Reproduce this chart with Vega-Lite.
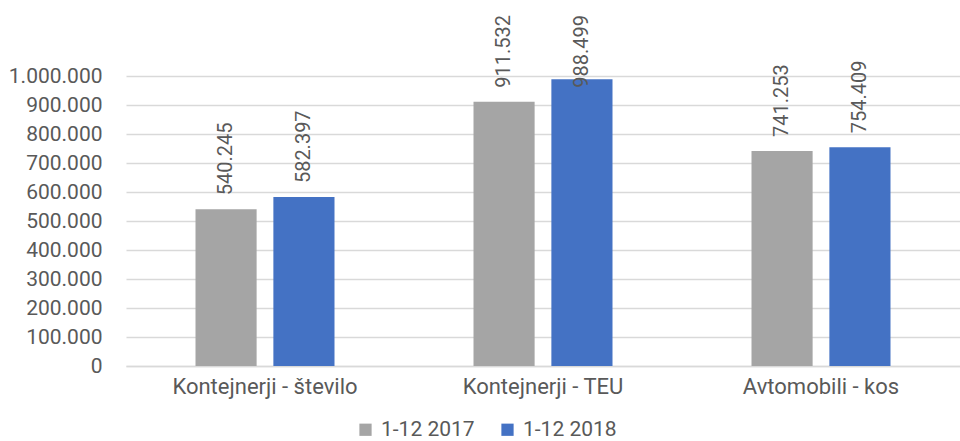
{
  "$schema": "https://vega.github.io/schema/vega-lite/v6.json",
  "autosize": "none",
  "width": 834,
  "height": 290,
  "padding": {"left": 126, "top": 76, "right": 0, "bottom": 75},
  "background": "white",
  "config": {
    "view": {"stroke": null},
    "font": "Roboto",
    "locale": {
      "number": {"decimal": ",", "thousands": ".", "grouping": [3], "currency": ["", " €"]}
    },
    "axisY": {
      "values": [0, 100000, 200000, 300000, 400000, 500000, 600000, 700000, 800000, 900000, 1000000],
      "format": ",d",
      "labelOverlap": false,
      "labelFontSize": 21,
      "labelColor": "#595959",
      "labelPadding": 24,
      "ticks": false,
      "domain": false,
      "gridColor": "#D9D9D9",
      "gridWidth": 1.5,
      "title": null
    }
  },
  "data": {
    "values": [
      {"kategorija": "Kontejnerji - število", "obdobje": "1-12 2017", "vrednost": 540245},
      {"kategorija": "Kontejnerji - število", "obdobje": "1-12 2018", "vrednost": 582397},
      {"kategorija": "Kontejnerji - TEU", "obdobje": "1-12 2017", "vrednost": 911532},
      {"kategorija": "Kontejnerji - TEU", "obdobje": "1-12 2018", "vrednost": 988499},
      {"kategorija": "Avtomobili - kos", "obdobje": "1-12 2017", "vrednost": 741253},
      {"kategorija": "Avtomobili - kos", "obdobje": "1-12 2018", "vrednost": 754409}
    ]
  },
  "encoding": {
    "x": {
      "field": "kategorija",
      "type": "nominal",
      "sort": null,
      "scale": {"paddingInner": 0.5, "paddingOuter": 0.25},
      "axis": {
        "title": null,
        "labelAngle": 0,
        "labelFontSize": 22,
        "labelLimit": 0,
        "labelColor": "#595959",
        "labelPadding": 10,
        "ticks": false,
        "domainColor": "#D9D9D9",
        "domainWidth": 1.5
      }
    },
    "xOffset": {
      "field": "obdobje",
      "type": "nominal",
      "scale": {"paddingInner": 0.215, "paddingOuter": 0}
    }
  },
  "layer": [
    {
      "mark": {"type": "bar"},
      "encoding": {
        "y": {
          "field": "vrednost",
          "type": "quantitative",
          "title": null,
          "scale": {"domain": [0, 1000000], "nice": false},
          "axis": {"values": [0, 100000, 200000, 300000, 400000, 500000, 600000, 700000, 800000, 900000, 1000000], "labelOverlap": false}
        },
        "color": {
          "field": "obdobje",
          "type": "nominal",
          "scale": {"domain": ["1-12 2017", "1-12 2018"], "range": ["#A5A5A5", "#4472C4"]},
          "legend": {
            "title": null,
            "orient": "none",
            "direction": "horizontal",
            "legendX": 229,
            "legendY": 343,
            "symbolType": "square",
            "symbolSize": 150,
            "symbolStrokeWidth": 0,
            "labelFontSize": 21,
            "labelColor": "#595959",
            "labelOffset": 5,
            "columnPadding": 22
          }
        }
      }
    },
    {
      "transform": [
        {"calculate": "min(datum.vrednost, 911532)", "as": "polozaj"}
      ],
      "mark": {
        "type": "text",
        "angle": -90,
        "align": "left",
        "baseline": "middle",
        "dx": 14,
        "fontSize": 20,
        "color": "#595959"
      },
      "encoding": {
        "y": {
          "field": "polozaj",
          "type": "quantitative",
          "title": null,
          "axis": {"values": [0, 100000, 200000, 300000, 400000, 500000, 600000, 700000, 800000, 900000, 1000000], "labelOverlap": false}
        },
        "text": {"field": "vrednost", "type": "quantitative", "format": ",d"}
      }
    }
  ]
}
